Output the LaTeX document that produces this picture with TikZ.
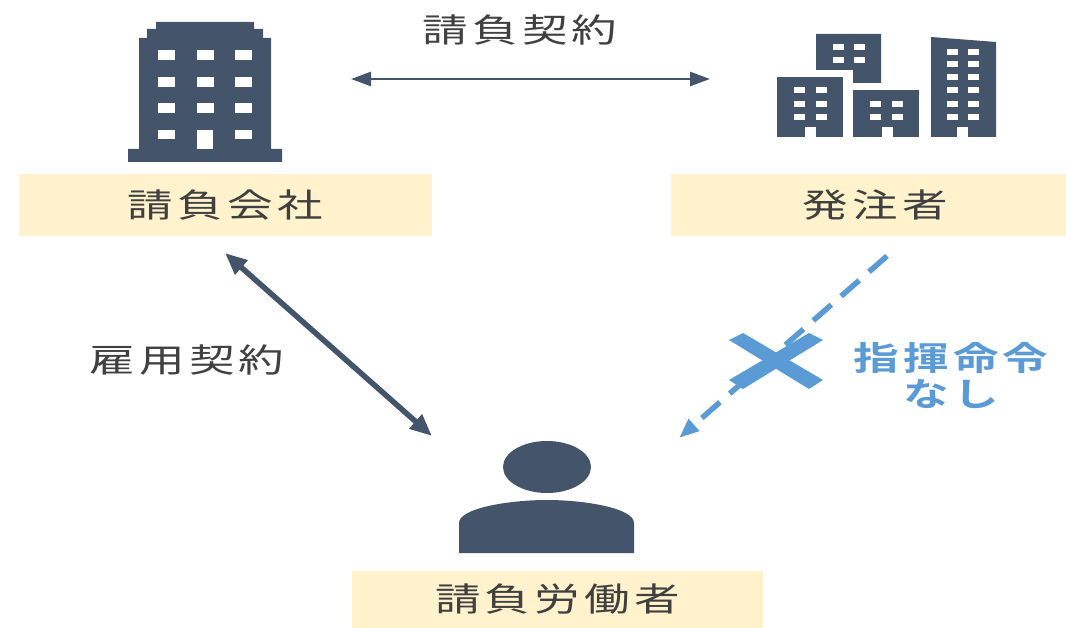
\documentclass[tikz,border=0pt]{standalone}
\usepackage{fontspec}
\usetikzlibrary{arrows.meta}
\newfontfamily\jpfont[FakeStretch=1.38,LetterSpace=13]{Noto Sans CJK JP}
\newfontfamily\jpbold[FakeStretch=1.38,LetterSpace=13]{Noto Sans CJK JP Bold}
\definecolor{navy}{HTML}{44546A}
\definecolor{paleyellow}{HTML}{FFF2CC}
\definecolor{skyblue}{HTML}{5B9BD5}
\tikzset{
  labelbox/.style={fill=paleyellow, inner sep=0pt, text=black!75, font=\jpfont\fontsize{33}{36}\selectfont},
  plainlabel/.style={inner sep=0pt, text=black!75, font=\jpfont\fontsize{33}{36}\selectfont},
  bluelabel/.style={inner sep=0pt, text=skyblue, font=\jpbold\fontsize{33}{36}\selectfont},
  icon/.style={fill=navy, draw=none},
  pane/.style={fill=white, draw=none},
  contract/.style={navy, line width=2.5pt, {Triangle[length=20pt,width=14pt]}-{Triangle[length=20pt,width=14pt]}},
  employ/.style={navy, line width=5.5pt, {Triangle[length=22pt,width=18pt]}-{Triangle[length=22pt,width=18pt]}},
  noorder/.style={skyblue, line width=5.5pt, dash pattern=on 24pt off 13pt, -{Triangle[length=20pt,width=15pt]}}
}
\begin{document}
\begin{tikzpicture}[x=1pt,y=-1pt]
    \useasboundingbox (0,0) rectangle (1066,628);
    % contractor building
    \fill[icon] (156,22) -- (254,22) -- (254,29) -- (263,29) -- (263,38) -- (271,38) -- (271,149) -- (282,149) -- (282,162)
        -- (128,162) -- (128,149) -- (139,149) -- (139,38) -- (147,38) -- (147,29) -- (156,29) -- cycle;
    \foreach \x in {158,197,235}
        \foreach \y in {50,77,103}
            \fill[pane] (\x,\y) rectangle +(17,10);
    \foreach \x in {158,235}
        \fill[pane] (\x,130) rectangle +(17,9);
    \fill[pane] (197,130) rectangle (213,149);
    % client buildings
    \fill[icon] (816,34) -- (881,34) -- (881,83) -- (853,83) -- (853,70) -- (816,70) -- cycle;
    \fill[icon] (777,77) rectangle (843,137);
    \fill[icon] (853,90) rectangle (919,137);
    \fill[icon] (931,37) -- (996,42) -- (996,137) -- (931,137) -- cycle;
    \foreach \x in {833,854}
        \foreach \y in {44,57}
            \fill[pane] (\x,\y) rectangle +(11,6);
    \foreach \x in {794,816}
        \foreach \y in {87,101,114}
            \fill[pane] (\x,\y) rectangle +(11,6);
    \foreach \x in {870,892}
        \foreach \y in {101,114}
            \fill[pane] (\x,\y) rectangle +(11,6);
    \foreach \x in {947,968}
        \foreach \y in {49,61,74,87,101,114}
            \fill[pane] (\x,\y) rectangle +(11,6);
    \foreach \x in {805,882,957}
        \fill[pane] (\x,127) rectangle +(11,10);
    % worker
    \fill[icon] (547,467) ellipse [x radius=44, y radius=26];
    \fill[icon] (459,553) -- (459,523) .. controls (459,508) and (510,500) .. (547,500)
        .. controls (584,500) and (634,508) .. (634,523) -- (634,553) -- cycle;
    % labels
    \node (kaisha) at (225.5,205) [labelbox, minimum width=413pt, minimum height=62pt] {請負会社};
    \node (client) at (868.5,205) [labelbox, minimum width=395pt, minimum height=62pt] {\hspace*{13pt}発注者};
    \node (worker) at (557.5,599.5) [labelbox, minimum width=411pt, minimum height=57pt] {請負労働者};
    \node (ukeoi) at (520,30) [plainlabel] {請負契約};
    \node (koyo) at (187,360) [plainlabel] {雇用契約};
    \node (shiki) at (951,358) [bluelabel] {指揮命令};
    \node (nashi) at (951,394) [bluelabel] {なし};
    % connectors
    \coordinate (ukeoiL) at (351,79);
    \coordinate (ukeoiR) at (710,79);
    \coordinate (koyoA) at (225,253);
    \coordinate (koyoB) at (432,436);
    \coordinate (shikiA) at (887,256);
    \coordinate (shikiB) at (679,438);
    \draw[contract] (ukeoiL) -- (ukeoiR);
    \draw[employ] (koyoA) -- (koyoB);
    \draw[noorder] (shikiA) -- (shikiB);
    % cross
    \fill[skyblue] (729,340) -- (743,333) -- (823,380) -- (809,389) -- cycle;
    \fill[skyblue] (823,340) -- (809,333) -- (729,380) -- (743,389) -- cycle;
\end{tikzpicture}
\end{document}
